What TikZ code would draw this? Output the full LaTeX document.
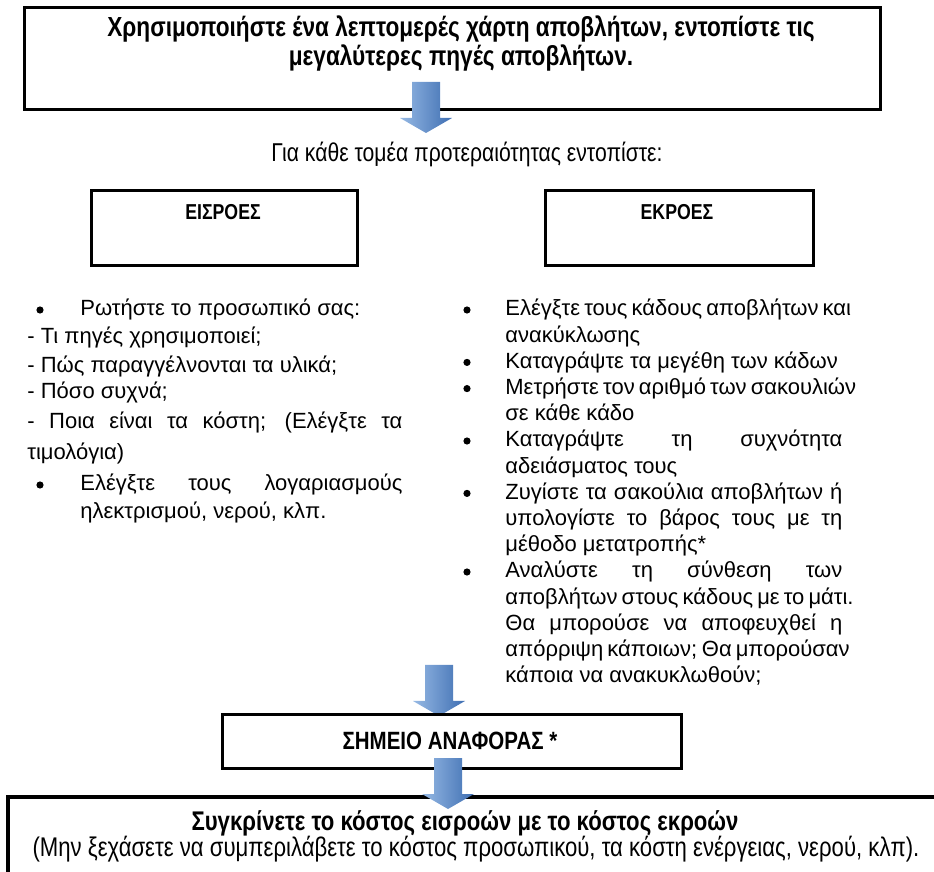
\documentclass[tikz,border=0pt]{standalone}
\usepackage{fontspec}
\setmainfont{Liberation Sans}
\newfontfamily\nar[FakeStretch=0.82]{Liberation Sans}
\definecolor{arL}{RGB}{150,185,228}
\definecolor{arR}{RGB}{62,110,178}
\newcommand{\jl}[2]{\makebox[#1][s]{#2}}
\begin{document}
\begin{tikzpicture}[x=0.5pt,y=-0.5pt,
  box/.style={draw, line width=1.6pt},
  lt/.style={inner sep=0pt, anchor=base west, font=\fontsize{11}{13}\selectfont},
  bul/.style={circle, fill, inner sep=0pt, minimum size=3.6pt},
  nt/.style={inner sep=0pt, font=\nar\fontsize{12}{14}\selectfont},
  blockarrow/.pic={\shade[left color=arL, right color=arR]
     (-14,0) -- (14,0) -- (14,36) -- (26,36) -- (0,51) -- (-26,36) -- (-14,36) -- cycle;}]
\useasboundingbox (0,0) rectangle (934,872);
\clip (0,0) rectangle (934,872);

% top box
\node[box, minimum width=428pt, minimum height=51pt, anchor=north west] (top) at (23,6) {};
\node[nt, font=\nar\bfseries\fontsize{13.8}{14.5}\selectfont, align=center] (title) at (461,44)
  {Χρησιμοποιήστε ένα λεπτομερές χάρτη αποβλήτων, εντοπίστε τις\\ μεγαλύτερες πηγές αποβλήτων.};
\pic at (426,82) {blockarrow};
\node[nt, font=\nar\fontsize{12.9}{14}\selectfont] (for) at (467,154) {Για κάθε τομέα προτεραιότητας εντοπίστε:};

% in/out boxes
\node[box, minimum width=133pt, minimum height=37.5pt, anchor=north west] (inb) at (90,189) {};
\node[nt, font=\nar\bfseries\fontsize{10.8}{13}\selectfont] (inl) at (223,212) {ΕΙΣΡΟΕΣ};
\node[box, minimum width=134pt, minimum height=37.5pt, anchor=north west] (outb) at (544,189) {};
\node[nt, font=\nar\bfseries\fontsize{10.8}{13}\selectfont] (outl) at (677,212) {ΕΚΡΟΕΣ};

% left column
\node[bul] (lb1) at (40,310) {};
\node[lt] (l1) at (80,316) {Ρωτήστε το προσωπικό σας:};
\node[lt] (l2) at (27,344) {- Τι πηγές χρησιμοποιεί;};
\node[lt] (l3) at (27,372) {- Πώς παραγγέλνονται τα υλικά;};
\node[lt] (l4) at (27,399) {- Πόσο συχνά;};
\node[lt] (l5) at (27,429) {\jl{187.5pt}{- Ποια είναι τα κόστη; (Ελέγξτε τα}};
\node[lt] (l6) at (27,460) {τιμολόγια)};
\node[bul] (lb2) at (40,485) {};
\node[lt] (l7) at (80,491) {\jl{161pt}{Ελέγξτε τους λογαριασμούς}};
\node[lt] (l8) at (80,518) {ηλεκτρισμού, νερού, κλπ.};

% right column
\node[lt] (r1) at (505,316) {\jl{168.5pt}{Ελέγξτε τους κάδους αποβλήτων και}};
\node[lt] (r2) at (505,342.2) {ανακύκλωσης};
\node[lt] (r3) at (505,368.4) {Καταγράψτε τα μεγέθη των κάδων};
\node[lt] (r4) at (505,394.6) {\jl{168.5pt}{Μετρήστε τον αριθμό των σακουλιών}};
\node[lt] (r5) at (505,420.8) {σε κάθε κάδο};
\node[lt] (r6) at (505,447) {\jl{168.5pt}{Καταγράψτε τη συχνότητα}};
\node[lt] (r7) at (505,473.2) {αδειάσματος τους};
\node[lt] (r8) at (505,499.4) {\jl{168.5pt}{Ζυγίστε τα σακούλια αποβλήτων ή}};
\node[lt] (r9) at (505,525.6) {\jl{168.5pt}{υπολογίστε το βάρος τους με τη}};
\node[lt] (r10) at (505,551.8) {μέθοδο μετατροπής*};
\node[lt] (r11) at (505,578) {\jl{168.5pt}{Αναλύστε τη σύνθεση των}};
\node[lt] (r12) at (505,604.2) {\jl{168.5pt}{αποβλήτων στους κάδους με το μάτι.}};
\node[lt] (r13) at (505,630.4) {\jl{168.5pt}{Θα μπορούσε να αποφευχθεί η}};
\node[lt] (r14) at (505,656.6) {\jl{168.5pt}{απόρριψη κάποιων; Θα μπορούσαν}};
\node[lt] (r15) at (505,682.8) {κάποια να ανακυκλωθούν;};
\foreach \n/\yy in {rb1/310, rb2/362.4, rb3/388.6, rb4/441, rb5/493.4, rb6/572}
  \node[bul] (\n) at (467,\yy) {};

% reference point
\pic at (439,665) {blockarrow};
\node[box, minimum width=229.5pt, minimum height=27pt, anchor=north west] (ref) at (221,713) {};
\node[nt, font=\nar\bfseries\fontsize{12.5}{14}\selectfont] (refl) at (450,741) {ΣΗΜΕΙΟ ΑΝΑΦΟΡΑΣ *};

% bottom box
\draw[line width=1.6pt] (950,797) -- (8,797) -- (8,890);
\pic at (448,758) {blockarrow};
\node[nt, font=\nar\bfseries\fontsize{13.5}{15}\selectfont] (cmp) at (465,823) {Συγκρίνετε το κόστος εισροών με το κόστος εκροών};
\node[nt, font=\nar\fontsize{13.5}{15}\selectfont] (note) at (476,849) {(Μην ξεχάσετε να συμπεριλάβετε το κόστος προσωπικού, τα κόστη ενέργειας, νερού, κλπ).};
\end{tikzpicture}
\end{document}
